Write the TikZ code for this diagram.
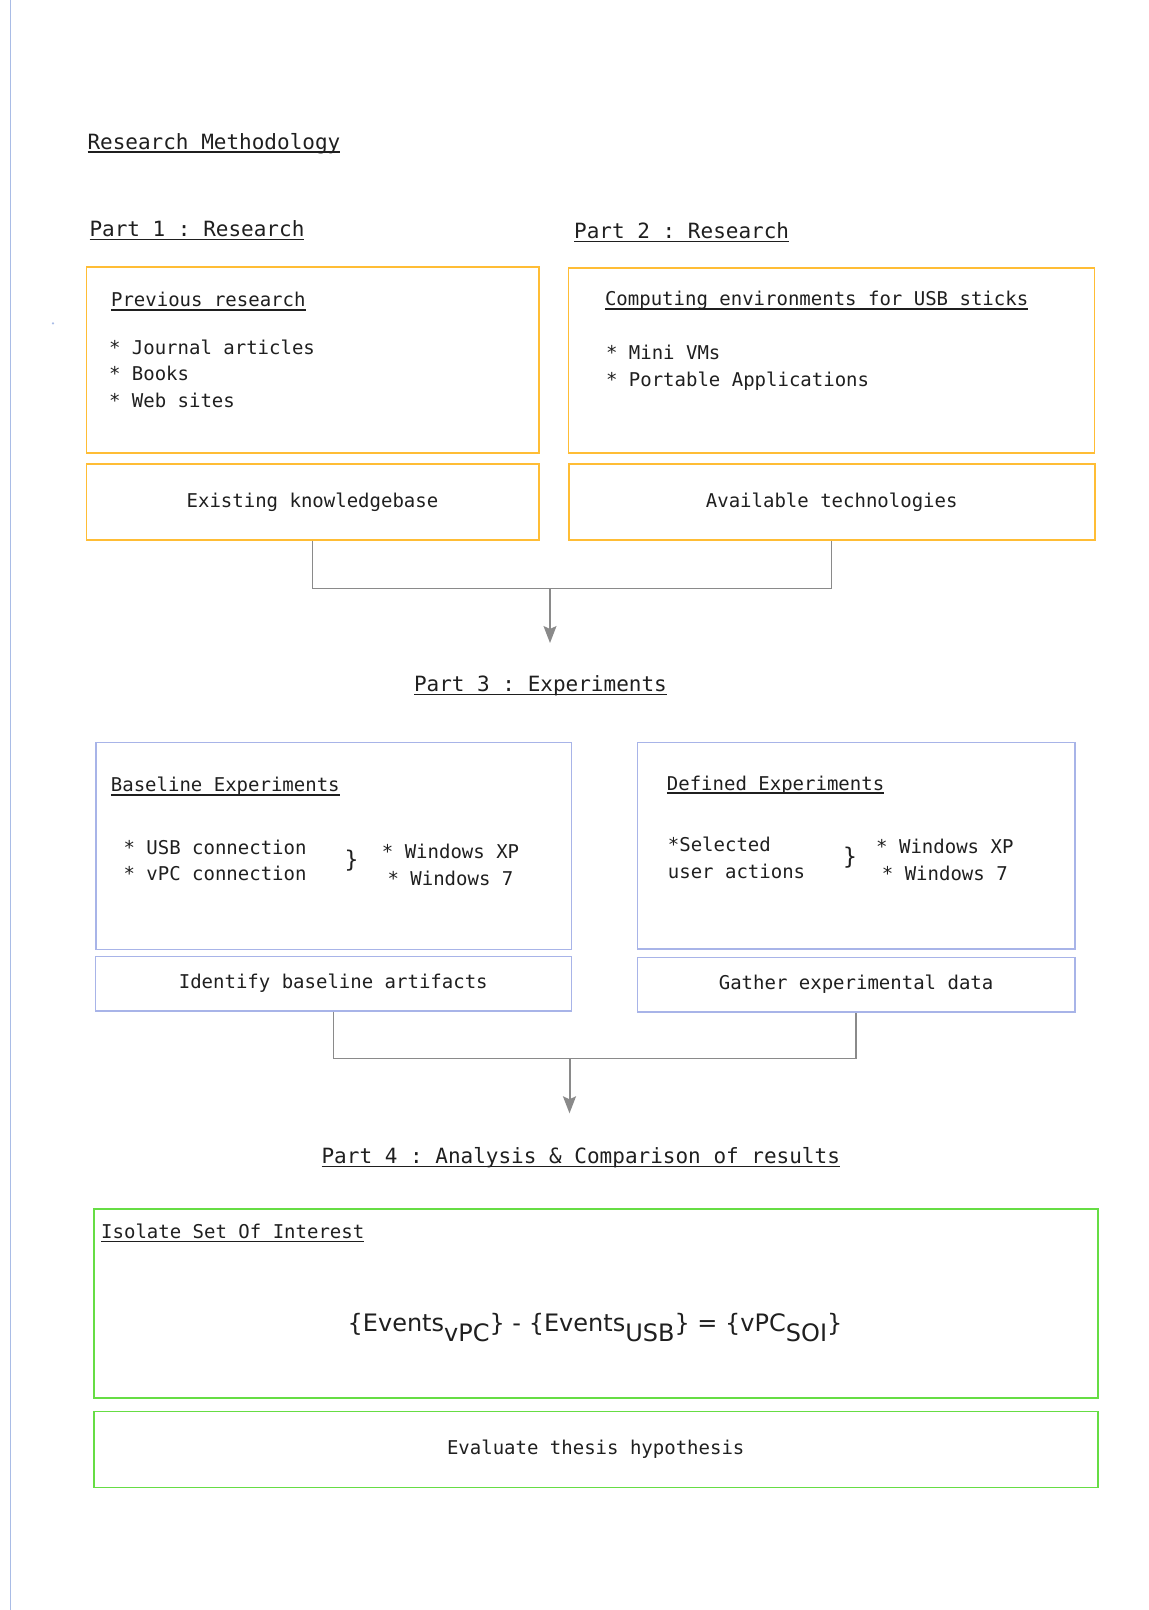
\documentclass[tikz,border=0pt]{standalone}
\usepackage{fontspec}
\setmainfont{DejaVu Sans}
\setmonofont{DejaVu Sans Mono}
\usetikzlibrary{arrows.meta}

\definecolor{ink}{HTML}{1F1F1F}
\definecolor{boxorange}{HTML}{FFBD35}
\definecolor{boxblue}{HTML}{A8B4E8}
\definecolor{boxgreen}{HTML}{66DD44}
\definecolor{margincol}{HTML}{A9BCE6}
\definecolor{linkgray}{HTML}{8A8A8A}

% underline that runs through the descenders, just under the baseline
\newcommand\ulin[1]{\setbox0\hbox{#1}\rlap{\rule[-3.8pt]{\wd0}{1.6pt}}\box0}

\begin{document}
\begin{tikzpicture}[x=1pt,y=-1pt,
  heading/.style={anchor=base west, inner sep=0pt, text=ink,
    font=\fontsize{21}{25}\selectfont\ttfamily},
  txt/.style={anchor=base west, inner sep=0pt, text=ink,
    font=\fontsize{19}{23}\selectfont\ttfamily},
  brace/.style={inner sep=0pt, text=ink,
    font=\fontsize{23}{27}\selectfont\ttfamily},
  frame/.style={anchor=north west, line width=1.5pt, inner sep=0pt,
    text=ink, font=\fontsize{19}{23}\selectfont\ttfamily},
  orangebox/.style={frame, draw=boxorange},
  bluebox/.style={frame, draw=boxblue},
  greenbox/.style={frame, draw=boxgreen},
  link/.style={draw=linkgray, line width=1.4pt},
  arrowlink/.style={link, -{Stealth[length=17pt,width=13pt,inset=3pt]}}
]
\useasboundingbox (0,0) rectangle (1149,1610);

% page margin line and stray dot
\draw[margincol, line width=1.5pt] (10.5,0) -- (10.5,1610);
\fill[margincol] (53,323.4) circle (1.2);

% ---------- Parts 1 and 2 ----------
\node[heading] (title) at (87.3,149) {\ulin{Research Methodology}};
\node[heading] (part1) at (89.3,236.5) {\ulin{Part 1 : Research}};
\node[heading] (part2) at (574,238.5) {\ulin{Part 2 : Research}};

\node[orangebox, minimum width=452.5pt, minimum height=186pt] (prev) at (85.5,266) {};
\node[txt] (prevhead) at (110.9,306.7) {\ulin{Previous research}};
\node[txt] (prev1) at (108.8,354) {* Journal articles};
\node[txt] (prev2) at (108.8,380.7) {* Books};
\node[txt] (prev3) at (108.8,407.4) {* Web sites};

\node[orangebox, minimum width=526pt, minimum height=185.3pt] (comp) at (567.5,267) {};
\node[txt] (comphead) at (604.8,305.7) {\ulin{Computing environments for USB sticks}};
\node[txt] (comp1) at (605.8,359.3) {* Mini VMs};
\node[txt] (comp2) at (605.8,386) {* Portable Applications};

\node[orangebox, minimum width=452.5pt, minimum height=76.3pt] (know) at (85.5,463) {Existing knowledgebase};
\node[orangebox, minimum width=526pt, minimum height=76.3pt] (tech) at (568,463) {Available technologies};

\coordinate (join1) at (550,588.5);
\coordinate (tip1) at (550,643);
\draw[link] (know.south) -- (know.south |- join1) -- (tech.south |- join1) -- (tech.south);
\draw[arrowlink] (join1) -- (tip1);

% ---------- Part 3 ----------
\node[heading] (part3) at (413.8,691.5) {\ulin{Part 3 : Experiments}};

\node[bluebox, minimum width=475.5pt, minimum height=207pt] (base) at (95,741.5) {};
\node[txt] (basehead) at (110.7,791.7) {\ulin{Baseline Experiments}};
\node[txt] (base1) at (123.3,854) {* USB connection};
\node[txt] (base2) at (123.3,880.7) {* vPC connection};
\node[brace] (basebrace) at (351.5,861) {\}};
\node[txt] (base3) at (381.7,858.3) {* Windows XP};
\node[txt] (base4) at (387.3,885) {* Windows 7};

\node[bluebox, minimum width=437.3pt, minimum height=206.6pt] (def) at (636.7,741.7) {};
\node[txt] (defhead) at (666.7,790) {\ulin{Defined Experiments}};
\node[txt] (def1) at (667.7,851.7) {*Selected};
\node[txt] (def2) at (667.7,878.3) {user actions};
\node[brace] (defbrace) at (850,858) {\}};
\node[txt] (def3) at (876,853.3) {* Windows XP};
\node[txt] (def4) at (881.7,880) {* Windows 7};

\node[bluebox, minimum width=476pt, minimum height=54.5pt] (ident) at (94.5,955.5) {Identify baseline artifacts};
\node[bluebox, minimum width=437.3pt, minimum height=54.3pt] (gather) at (636.7,956.7) {Gather experimental data};

\coordinate (join2) at (569.5,1058.3);
\coordinate (tip2) at (569.5,1113.3);
\draw[link] (ident.south) -- (ident.south |- join2) -- (gather.south |- join2) -- (gather.south);
\draw[arrowlink, line width=2pt] (join2) -- (tip2);

% ---------- Part 4 ----------
\node[heading] (part4) at (321.4,1163.5) {\ulin{Part 4 : Analysis \& Comparison of results}};

\node[greenbox, minimum width=1004pt, minimum height=188.7pt] (soi) at (93,1208.3) {};
\node[txt] (soihead) at (101,1238.3) {\ulin{Isolate Set Of Interest}};
\node[anchor=base, inner sep=0pt, text=ink, font=\fontsize{24}{28}\selectfont\rmfamily] (soieq) at (595,1331.7)
  {\{Events\lower10pt\hbox{vPC}\} - \{Events\lower10pt\hbox{USB}\} = \{vPC\lower10pt\hbox{SOI}\}};

\node[greenbox, minimum width=1004pt, minimum height=75.8pt] (eval) at (93,1410.7) {Evaluate thesis hypothesis};
\end{tikzpicture}
\end{document}
